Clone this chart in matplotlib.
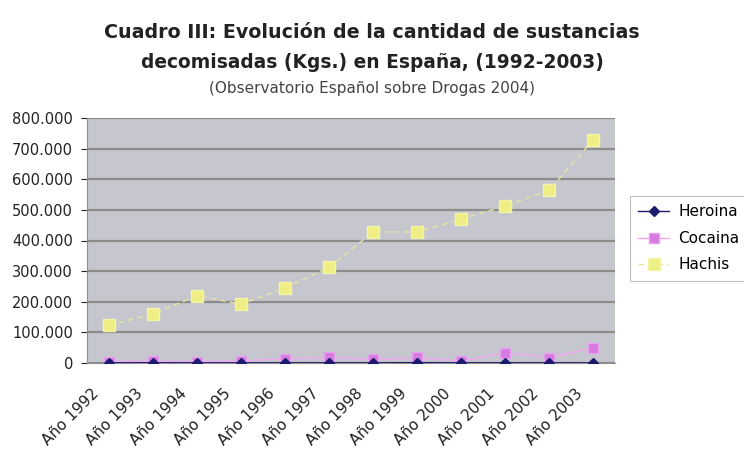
import matplotlib
matplotlib.use("Agg")
import matplotlib.pyplot as plt
from matplotlib.ticker import FuncFormatter, MultipleLocator
from matplotlib.transforms import ScaledTranslation

years = ["Año 1992", "Año 1993", "Año 1994", "Año 1995", "Año 1996", "Año 1997",
         "Año 1998", "Año 1999", "Año 2000", "Año 2001", "Año 2002", "Año 2003"]
heroina = [700, 900, 600, 500, 500, 500, 400, 1200, 500, 600, 300, 200]
cocaina = [4500, 5300, 4000, 6900, 13700, 18400, 11700, 18100, 6200, 33700, 17600, 49300]
hachis = [124000, 160000, 220000, 192000, 245000, 312000, 428000, 428000,
          470000, 512000, 564000, 727000]

plt.rcParams['font.family'] = ['DejaVu Sans']

W, H = 744, 457
fig = plt.figure(figsize=(W / 100, H / 100), dpi=100)
fig.patch.set_facecolor('white')
ax = fig.add_axes([87 / W, 1 - 363 / H, (615 - 87) / W, (363 - 118) / H])
ax.set_facecolor('#c6c6ce')

x = list(range(len(years)))
ax.plot(x, heroina, color='#1c1c6e', lw=1, marker='D', ms=5, label='Heroina', zorder=5)
ax.plot(x, cocaina, color='#f0a8f0', lw=1, marker='s', ms=7,
        mfc='#d67ae0', mec='#e8a0f0', label='Cocaina', zorder=4)
ax.plot(x, hachis, color='#e6e6a0', lw=1, ls=(0, (4, 3)), marker='s', ms=8.5,
        mfc='#eeee84', mec='#f4f4a8', label='Hachis', zorder=3)

ax.set_xlim(-0.5, len(years) - 0.5)
ax.set_ylim(0, 800000)
ax.yaxis.set_major_locator(MultipleLocator(100000))
ax.yaxis.set_major_formatter(FuncFormatter(lambda v, p: f"{int(v):,}".replace(",", ".")))
ax.grid(axis='y', color='#8c8c8c', lw=1.6)
ax.set_axisbelow(True)
ax.set_xticks(x)
ax.set_xticklabels(years, rotation=45, ha='right', rotation_mode='anchor',
                   fontsize=11, color='#222222')
ax.tick_params(axis='y', labelsize=10.5, colors='#222222', length=4, width=0.8, pad=6)
ax.tick_params(axis='x', length=0, pad=2)
off = ScaledTranslation(-18 / 100, -20 / 100, fig.dpi_scale_trans)
for lab in ax.get_xticklabels():
    lab.set_transform(lab.get_transform() + off)
for s in ['top', 'right']:
    ax.spines[s].set_visible(False)
ax.spines['left'].set_color('#909090')
ax.spines['bottom'].set_color('#909090')

renderer = fig.canvas.get_renderer()


def fit_text(y_px, s, target_w, size, **kw):
    t = fig.text(0.5, 1 - y_px / H, s, ha='center', va='center', fontsize=size, **kw)
    w = t.get_window_extent(renderer=renderer).width
    t.set_fontsize(size * target_w / w)
    return t


fit_text(33, "Cuadro III: Evolución de la cantidad de sustancias", 528, 13,
         fontweight='bold', color='#222222')
fit_text(62, "decomisadas (Kgs.) en España, (1992-2003)", 460, 13,
         fontweight='bold', color='#222222')
fit_text(88, "(Observatorio Español sobre Drogas 2004)", 325, 10, color='#444444')

leg = fig.legend(loc='upper left', bbox_to_anchor=(630 / W, 1 - 196 / H), frameon=True,
                 fontsize=11, handlelength=2.0, borderpad=0.55, labelspacing=0.75,
                 borderaxespad=0, handletextpad=0.6, fancybox=False, edgecolor='#b0b0b0')
leg.get_frame().set_linewidth(0.8)

fig.savefig("out.png", dpi=100, facecolor='white')
